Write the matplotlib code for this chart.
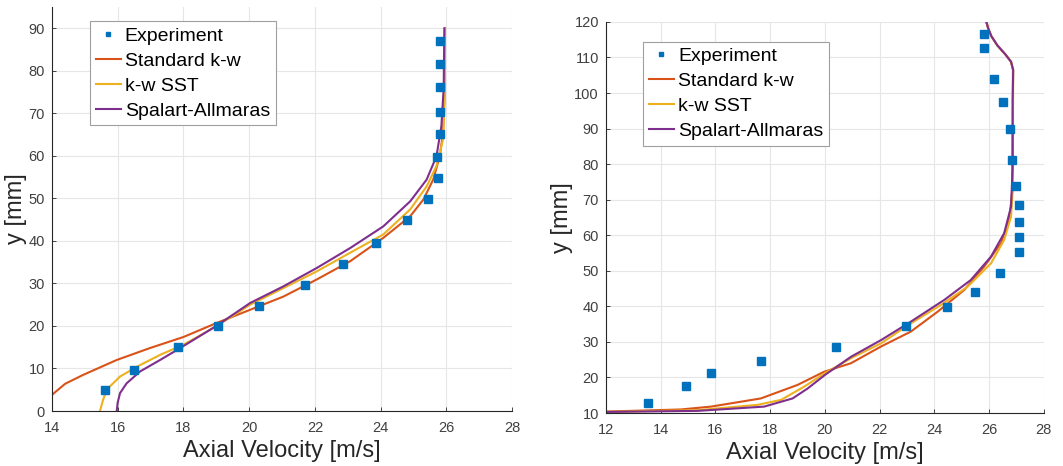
import numpy as np
import matplotlib
matplotlib.use("Agg")
import matplotlib.pyplot as plt

plt.rcParams['font.family'] = ['Liberation Sans', 'DejaVu Sans']

# MATLAB default line colours
c_exp = '#0072BD'
c_std = '#D95319'
c_sst = '#EDB120'
c_sa = '#7E2F8E'
labels = ['Experiment', 'Standard k-w', 'k-w SST', 'Spalart-Allmaras']

# ---- left profile ----
exp_u1 = [15.6, 16.5, 17.85, 19.05, 20.3, 21.7, 22.85, 23.85, 24.8, 25.43, 25.75, 25.73, 25.8, 25.82, 25.82, 25.82, 25.82]
exp_y1 = [5.0, 9.7, 15.1, 20.1, 24.8, 29.6, 34.6, 39.5, 44.9, 49.8, 54.7, 59.8, 65.2, 70.3, 76.3, 81.7, 87.0]

std_u1 = [14.0, 14.4, 14.95, 15.97, 16.98, 18.0, 19.01, 20.03, 21.04, 22.05, 23.07, 24.08, 24.9, 25.3, 25.6, 25.8, 25.9, 25.94, 25.96]
std_y1 = [3.8, 6.4, 8.5, 12.0, 14.8, 17.4, 20.7, 23.8, 26.9, 30.9, 35.2, 40.7, 45.8, 49.7, 54.4, 59.9, 65.4, 73.3, 90.0]

sst_u1 = [15.46, 15.55, 15.66, 16.07, 16.58, 17.29, 18.0, 19.0, 20.03, 21.04, 22.05, 23.07, 24.08, 24.9, 25.4, 25.7, 25.9, 25.95, 25.96]
sst_y1 = [0.0, 2.5, 5.0, 8.1, 10.4, 13.2, 15.6, 19.9, 25.0, 28.9, 32.8, 37.2, 41.5, 47.4, 52.8, 57.6, 63.9, 73.0, 90.0]

sa_u1 = [15.97, 16.0, 16.07, 16.27, 16.68, 17.29, 17.9, 19.0, 20.03, 21.04, 22.05, 23.07, 24.08, 24.9, 25.4, 25.7, 25.85, 25.92, 25.94]
sa_y1 = [0.0, 2.0, 4.2, 6.5, 9.3, 12.0, 14.8, 20.0, 25.4, 29.3, 33.6, 38.3, 43.4, 49.3, 54.4, 59.9, 67.0, 76.0, 90.0]

# ---- right profile ----
exp_u2 = [13.55, 14.91, 15.84, 17.66, 20.41, 22.96, 24.45, 25.47, 26.39, 27.1, 27.1, 27.1, 27.1, 26.98, 26.84, 26.75, 26.5, 26.16, 25.82, 25.82]
exp_y2 = [12.7, 17.6, 21.3, 24.7, 28.6, 34.5, 39.7, 44.1, 49.4, 55.4, 59.4, 63.7, 68.6, 73.9, 81.1, 89.9, 97.4, 104.0, 112.8, 116.6]

std_u2 = [12.0, 14.74, 15.84, 17.66, 19.0, 19.97, 20.95, 22.05, 23.14, 24.12, 25.09, 25.82, 26.43, 26.73, 26.84, 26.86, 26.87, 26.80, 26.60, 26.30, 26.08, 25.96, 25.90]
std_y2 = [10.4, 11.0, 11.8, 14.1, 17.9, 21.6, 24.0, 28.7, 32.9, 38.5, 44.6, 51.2, 57.7, 64.3, 72.0, 90.0, 106.5, 108.8, 110.8, 113.4, 116.0, 118.3, 120.0]

sst_u2 = [12.0, 15.35, 17.54, 18.4, 19.24, 20.0, 20.95, 22.05, 23.14, 24.24, 25.21, 26.07, 26.55, 26.8, 26.87, 26.87, 26.88, 26.80, 26.60, 26.30, 26.08, 25.96, 25.90]
sst_y2 = [10.3, 10.8, 12.3, 13.7, 17.4, 21.2, 25.4, 29.6, 35.2, 40.4, 45.5, 52.1, 58.7, 65.2, 73.7, 90.0, 106.5, 108.8, 110.8, 113.4, 116.0, 118.3, 120.0]

sa_u2 = [12.0, 15.35, 17.78, 18.82, 19.37, 20.0, 20.95, 22.05, 23.14, 24.36, 25.33, 26.07, 26.55, 26.8, 26.86, 26.86, 26.88, 26.80, 26.60, 26.30, 26.08, 25.96, 25.90]
sa_y2 = [10.3, 10.6, 11.8, 14.1, 16.9, 20.7, 25.8, 30.5, 35.7, 41.8, 47.4, 54.0, 60.6, 68.0, 79.3, 98.1, 106.5, 108.8, 110.8, 113.4, 116.0, 118.3, 120.0]


def draw(ax, exp, std, sst, sa, xlim, ylim, yticks, leg_anchor):
    ax.plot(exp[0], exp[1], 's', color=c_exp, ms=5.5, zorder=5)
    ax.plot(std[0], std[1], '-', color=c_std, lw=1.5)
    ax.plot(sst[0], sst[1], '-', color=c_sst, lw=1.5)
    ax.plot(sa[0], sa[1], '-', color=c_sa, lw=1.5)
    ax.set_xlim(*xlim)
    ax.set_ylim(*ylim)
    ax.set_xticks(np.arange(xlim[0], xlim[1] + 1, 2))
    ax.set_yticks(yticks)
    ax.grid(True, color='#e6e6e6', lw=0.8)
    ax.set_axisbelow(True)
    for s in ('top', 'right'):
        ax.spines[s].set_visible(False)
    for s in ('left', 'bottom'):
        ax.spines[s].set_color('#262626')
        ax.spines[s].set_linewidth(0.8)
    ax.tick_params(direction='in', length=3, width=0.6, colors='#262626',
                   labelsize=10.5, labelcolor='#404040')
    ax.tick_params(axis='x', pad=7)
    ax.tick_params(axis='y', pad=5)
    ax.set_xlabel('Axial Velocity [m/s]', fontsize=17, color='#262626', labelpad=4)
    ax.set_ylabel('y [mm]', fontsize=17, color='#262626', labelpad=1)
    leg = ax.legend(labels, loc='upper left', bbox_to_anchor=leg_anchor,
                    fontsize=14, handlelength=1.3, handletextpad=0.2,
                    borderpad=0.3, labelspacing=0.38, borderaxespad=0,
                    markerscale=0.55, fancybox=False, framealpha=1,
                    edgecolor='#a0a0a0')
    leg.get_frame().set_linewidth(0.8)


fig = plt.figure(figsize=(10.63, 4.66), dpi=100)
ax1 = fig.add_axes([0.0489, 0.118, 0.4328, 0.867])
ax2 = fig.add_axes([0.570, 0.1137, 0.412, 0.8393])

draw(ax1, (exp_u1, exp_y1), (std_u1, std_y1), (sst_u1, sst_y1), (sa_u1, sa_y1),
     (14, 28), (0, 95), np.arange(0, 91, 10), (0.082, 0.965))
draw(ax2, (exp_u2, exp_y2), (std_u2, std_y2), (sst_u2, sst_y2), (sa_u2, sa_y2),
     (12, 28), (10, 120), np.arange(10, 121, 10), (0.0845, 0.949))

fig.savefig('out.png', dpi=100)
